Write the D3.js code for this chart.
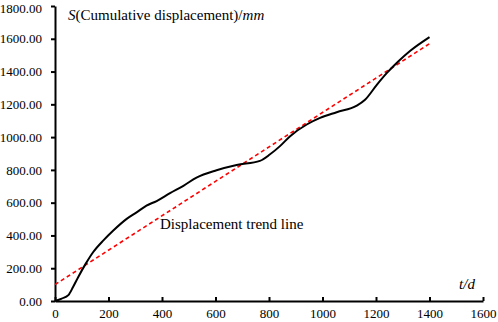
<!DOCTYPE html>
<html>
<head>
<meta charset="utf-8">
<script src="https://cdn.jsdelivr.net/npm/d3@7"></script>
<style>
  body { margin: 0; background: #fff; }
  svg, svg text { font-family: 'Liberation Serif', 'Times New Roman', serif !important; }
  .axis path, .axis line { stroke: #000; stroke-width: 2; }
</style>
</head>
<body>
<div id="chart"></div>
<script>
// days and cumulative displacement (mm)
const days = [0, 25, 50, 68, 87, 115, 143, 181, 218, 268, 305, 342, 380, 430, 480, 529, 604, 679, 766, 804, 841, 879, 941, 991, 1053, 1128, 1159, 1203, 1240, 1283, 1327, 1400];
const displacement = [0, 15, 36, 87, 147, 228, 299, 370, 430, 501, 541, 582, 610, 658, 703, 753, 798, 830, 855, 895, 945, 1006, 1077, 1117, 1152, 1192, 1228, 1319, 1390, 1461, 1525, 1610];
const trendDays = [0, 1400];
const trendValues = [100, 1570];
const xTicks = [0, 200, 400, 600, 800, 1000, 1200, 1400, 1600];
const yTicks = [0, 200, 400, 600, 800, 1000, 1200, 1400, 1600, 1800];

const width = 498, height = 322;
const margin = {top: 6, right: 15, bottom: 21, left: 55};
const w = width - margin.left - margin.right;
const h = height - margin.top - margin.bottom;

const svg = d3.select('#chart').append('svg')
    .attr('width', width)
    .attr('height', height);

const chart = svg.append('g')
    .attr('transform', `translate(${margin.left},${margin.top})`);

const xScale = d3.scaleLinear().domain([0, 1600]).range([0, w]);
const yScale = d3.scaleLinear().domain([0, 1800]).range([h, 0]);

const xAxis = d3.axisBottom(xScale)
    .tickValues(xTicks)
    .tickSizeInner(-4)
    .tickSizeOuter(0)
    .tickPadding(8)
    .tickFormat(d3.format('d'));

const yAxis = d3.axisLeft(yScale)
    .tickValues(yTicks)
    .tickSizeInner(4)
    .tickSizeOuter(0)
    .tickPadding(9)
    .tickFormat(d3.format('.2f'));

chart.append('g')
    .attr('class', 'axis x-axis')
    .attr('transform', `translate(0,${h})`)
    .call(xAxis)
    .attr('font-size', 13);

chart.append('g')
    .attr('class', 'axis y-axis')
    .call(yAxis)
    .attr('font-size', 13);

chart.selectAll('.axis text').attr('fill', '#000');
chart.select('.y-axis .tick:last-of-type text').attr('dy', '0.5em');

// trend line (dashed red)
const trend = trendDays.map((d, i) => ({t: d, s: trendValues[i]}));
chart.append('path')
    .datum(trend)
    .attr('fill', 'none')
    .attr('stroke', '#ff0000')
    .attr('stroke-width', 1.6)
    .attr('stroke-dasharray', '4,3')
    .attr('d', d3.line().x(d => xScale(d.t)).y(d => yScale(d.s)));

// measured curve
const series = days.map((d, i) => ({t: d, s: displacement[i]}));
chart.append('path')
    .datum(series)
    .attr('fill', 'none')
    .attr('stroke', '#000')
    .attr('stroke-width', 2)
    .attr('d', d3.line().curve(d3.curveMonotoneX).x(d => xScale(d.t)).y(d => yScale(d.s)));

// labels
const yTitle = svg.append('text')
    .attr('x', 68)
    .attr('y', 20)
    .style('font-size', '15px');
yTitle.append('tspan').style('font-style', 'italic').text('S');
yTitle.append('tspan').text('(Cumulative displacement)/');
yTitle.append('tspan').style('font-style', 'italic').text('mm');

svg.append('text')
    .attr('x', 467)
    .attr('y', 289)
    .attr('text-anchor', 'middle')
    .style('font-size', '15px')
    .style('font-style', 'italic')
    .text('t/d');

svg.append('text')
    .attr('x', 160)
    .attr('y', 229)
    .style('font-size', '15px')
    .text('Displacement trend line');
</script>
</body>
</html>
